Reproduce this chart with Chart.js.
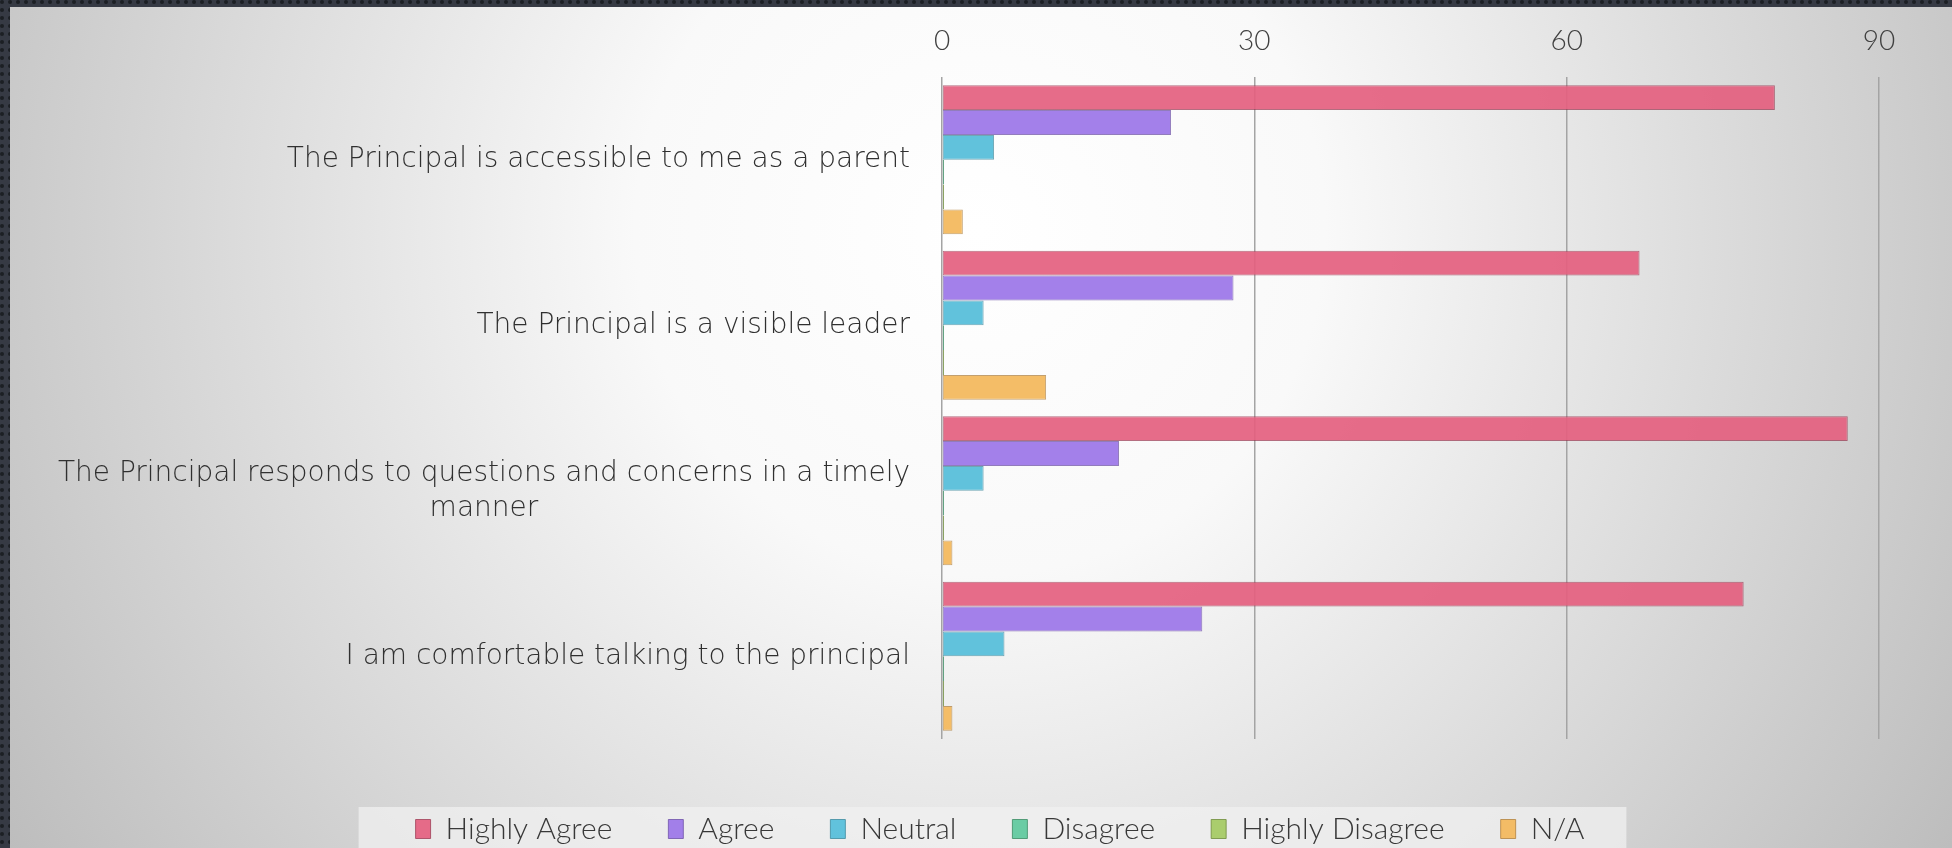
<!DOCTYPE html>
<html>
<head>
<meta charset="utf-8">
<script src="https://cdn.jsdelivr.net/npm/chart.js@4"></script>
<style>
html, body { margin: 0; padding: 0; background: #343842; overflow: hidden; }
canvas { display: block; }
</style>
</head>
<body>
<canvas id="chart" width="1952" height="848"></canvas>
<script>
// survey categories, one row per question
const categories = [
  'The Principal is accessible to me as a parent',
  'The Principal is a visible leader',
  ['The Principal responds to questions and concerns in a timely', 'manner'],
  'I am comfortable talking to the principal'
];
const highlyAgree    = [80, 67, 87, 77];
const agree          = [22, 28, 17, 25];
const neutral        = [5, 4, 4, 6];
const disagree       = [0, 0, 0, 0];
const highlyDisagree = [0, 0, 0, 0];
const notApplicable  = [2, 10, 1, 1];
const axisTicks = [0, 30, 60, 90];

const FONT = "'Lato', 'DejaVu Sans', sans-serif";
const CAT_FONT = "200 28px 'DejaVu Sans', 'Lato', sans-serif";
const TEXT = '#404040';

// slide background: dark dotted frame + radial grey panel + legend strip
const backdrop = {
  id: 'backdrop',
  beforeDraw(chart) {
    const ctx = chart.ctx, w = chart.width, h = chart.height;
    ctx.save();
    ctx.fillStyle = '#363a44';
    ctx.fillRect(0, 0, w, h);
    ctx.fillStyle = '#1c1f24';
    for (let y = 2; y < h; y += 8) {
      for (let x = 2; x < w; x += 8) {
        if (x > 10 && y > 7) continue;
        ctx.beginPath();
        ctx.arc(x, y, 2, 0, Math.PI * 2);
        ctx.fill();
      }
    }
    const g = ctx.createRadialGradient(980, 230, 0, 980, 230, 1150);
    g.addColorStop(0, '#ffffff');
    g.addColorStop(0.3, '#f9f9f9');
    g.addColorStop(1, '#bdbdbd');
    ctx.fillStyle = g;
    ctx.fillRect(10, 7, w - 10, h - 7);

    const hb = chart.legend.legendHitBoxes;
    if (hb && hb.length) {
      const left = Math.min(...hb.map(b => b.left)) - 57;
      const right = Math.max(...hb.map(b => b.left + b.width)) + 42;
      const top = hb[0].top - 7;
      ctx.fillStyle = 'rgba(240,240,240,0.75)';
      ctx.fillRect(left, top, right - left, h - top);
    }
    ctx.restore();
  }
};

// category labels: block right-aligned, lines centred on each other
const catLabels = {
  id: 'catLabels',
  afterDraw(chart) {
    const s = chart.scales.y, ctx = chart.ctx;
    const lineH = 35;
    ctx.save();
    ctx.font = CAT_FONT;
    ctx.fillStyle = '#303030';
    ctx.textAlign = 'center';
    ctx.textBaseline = 'middle';
    const right = chart.chartArea.left - 32;
    categories.forEach((label, i) => {
      const lines = [].concat(label);
      const wMax = Math.max(...lines.map(l => ctx.measureText(l).width));
      const cx = right - wMax / 2;
      const y = s.getPixelForTick(i);
      lines.forEach((l, j) => ctx.fillText(l, cx, y + (j - (lines.length - 1) / 2) * lineH));
    });
    ctx.restore();
  }
};

function ds(label, data, fill, border, extra) {
  return Object.assign({
    label, data,
    backgroundColor: fill,
    borderColor: border,
    borderWidth: 1,
    borderSkipped: false
  }, extra || {});
}

new Chart(document.getElementById('chart'), {
  type: 'bar',
  data: {
    labels: categories,
    datasets: [
      ds('Highly Agree', highlyAgree, 'rgba(228,95,127,0.92)', 'rgba(150,50,75,0.7)'),
      ds('Agree', agree, 'rgba(158,121,233,0.95)', 'rgba(100,70,160,0.7)'),
      ds('Neutral', neutral, 'rgba(88,191,218,0.95)', 'rgba(50,130,150,0.7)'),
      ds('Disagree', disagree, 'rgba(98,201,159,0.95)', 'rgba(60,140,100,0.8)', { minBarLength: 2 }),
      ds('Highly Disagree', highlyDisagree, 'rgba(166,203,102,0.95)', 'rgba(110,140,60,0.8)', { minBarLength: 2 }),
      ds('N/A', notApplicable, 'rgba(243,185,95,0.95)', 'rgba(170,120,50,0.7)')
    ]
  },
  options: {
    responsive: false,
    animation: false,
    indexAxis: 'y',
    categoryPercentage: 0.9,
    barPercentage: 1,
    layout: { padding: { left: 121, right: 73, top: 0, bottom: 0 } },
    scales: {
      x: {
        position: 'top',
        min: 0,
        max: 90,
        afterBuildTicks: s => { s.ticks = axisTicks.map(v => ({ value: v })); },
        afterFit: s => { s.height = 77; },
        grid: { color: '#a4a4a4', lineWidth: 1.5, drawTicks: false },
        border: { display: false },
        ticks: { color: TEXT, padding: 19, font: { family: FONT, size: 28, weight: 300 } }
      },
      y: {
        afterFit: s => { s.width = 942 - 121; },
        grid: { display: false },
        border: { display: false },
        ticks: { display: false }
      }
    },
    plugins: {
      tooltip: { enabled: false },
      legend: {
        position: 'bottom',
        maxHeight: 109,
        title: { display: true, text: '', font: { size: 1, lineHeight: 1 }, padding: { top: 18, bottom: 0 } },
        labels: {
          color: '#383838',
          boxWidth: 15,
          boxHeight: 19,
          padding: 56,
          font: { family: FONT, size: 30, weight: 300 }
        }
      }
    }
  },
  plugins: [backdrop, catLabels]
});
</script>
</body>
</html>
